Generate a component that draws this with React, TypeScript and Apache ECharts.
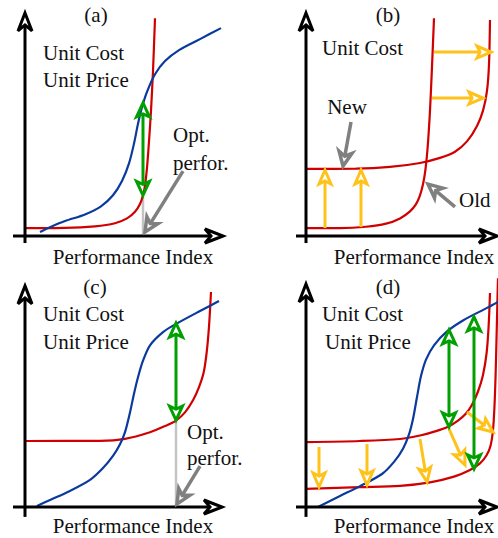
import React, { useEffect, useRef } from "react";
import * as echarts from "echarts";

// ---------- Panel (a) ----------
const costA = [[0, 3.6], [20, 3.7], [35, 4.4], [45, 5.8], [51, 8], [55, 11], [57.5, 14.5], [59, 18.5], [60, 23], [61, 31], [62, 43], [63, 57], [64, 75], [65, 99]];
const priceA = [[7.5, 1.8], [12.5, 4], [20, 6.8], [30, 9.8], [38, 13.5], [44, 18.5], [48.5, 25], [52, 33], [54.5, 42], [56.5, 51], [58.5, 58.5], [61, 65.5], [65, 73.5], [70, 79.5], [77, 84.5], [87.5, 89.5], [98, 94.5]];
const marginA = [[59, 60.5, 59, 18.5]];
const optLineA = [[59, 18.5], [59, 0]];
const pointerA = [[79, 29.5, 60, 1.8]];
const axesA = [[-6, 0, 99, 0], [0, -3.2, 0, 101.4]];

// ---------- Panel (b) ----------
const oldCostB = [[0, 3.6], [17, 3.6], [30, 4.2], [40, 5.6], [47, 8], [52, 11.2], [55, 14.5], [57, 18.5], [58.5, 23.5], [59.7, 30], [60.8, 40], [62, 57], [63, 77], [64, 99]];
const newCostB = [[0.5, 30.5], [25, 30.6], [42, 31.4], [57, 33.2], [67, 35.5], [74.5, 38.3], [80.5, 43], [85.5, 50], [88.5, 57], [90.5, 66], [91.5, 78], [92, 98.2]];
const shiftB = [[9.5, 3.6, 9.5, 30], [27.5, 4.1, 27.5, 30], [64, 83.6, 92.5, 83.6], [63, 62.7, 88.5, 62.7]];
const pointerB = [[22.5, 51.8, 18.5, 31.8], [74.5, 13.2, 61, 23.6]];
const axesB = [[-5, 0, 95.5, 0], [0, -3.2, 0, 101.4]];

// ---------- Panel (c) ----------
const costC = [[0.5, 30], [37.5, 30.1], [50, 31], [62.5, 34], [70, 36.8], [75.5, 39.3], [80, 43], [84, 48.5], [87, 54.5], [89.3, 61], [90.8, 70], [92, 82], [93, 97.7]];
const priceC = [[6, 0.5], [12.5, 3.2], [22.5, 7.3], [32.5, 12.3], [39, 17.7], [44, 23.2], [47.5, 28.5], [50, 34], [52.5, 43], [54.5, 51.5], [56.5, 59], [59, 66.5], [62.5, 73.5], [69, 79.5], [75.5, 83.2], [87.5, 89.1], [97, 93.6]];
const marginC = [[75.5, 83.6, 75.5, 39.5]];
const optLineC = [[75.5, 39.5], [75.5, 0]];
const pointerC = [[87.5, 18.6, 76, 1.4]];
const axesC = [[-6, 0, 98.5, 0], [0, -4.5, 0, 100.5]];

// ---------- Panel (d) ----------
const highCostD = [[0, 29.5], [27, 30], [47, 30.9], [57, 32.5], [65, 34.5], [71, 36.5], [76, 39.3], [80, 42.5], [83, 46.5], [86, 52.5], [88.5, 60], [90.3, 70], [91.3, 82], [92, 97.3]];
const lowCostD = [[0, 8.2], [27, 9], [47, 9.6], [62, 11.2], [74, 13.8], [82, 16.8], [87, 19.8], [90.3, 23.5], [92.3, 28], [93.5, 35], [94.2, 45], [94.8, 60], [95.3, 78], [95.8, 97], [96, 104]];
const priceD = [[6, 0], [17, 5], [27, 9.5], [38, 15], [44, 20.5], [48.5, 26.5], [51.5, 33], [53.5, 40], [55.5, 50], [57.5, 59.5], [60, 67], [64, 73.5], [70.5, 79.8], [78.5, 84.8], [90.5, 90.5], [96, 93.2]];
const marginD = [[71.5, 80.5, 71.5, 36.4], [84, 86.4, 84, 17.3]];
const shiftD = [[6.5, 27.3, 6.5, 9.1], [30.5, 28.6, 30.5, 10], [57, 30.9, 60.5, 11.4], [71.5, 35.5, 79.5, 19.1], [80.5, 43.2, 93.5, 34.1]];
const axesD = [[-5, 0, 95.5, 0], [0, -4.5, 0, 101.4]];

const RED = "#d00000";
const BLUE = "#0b3a9e";
const GREEN = "#00a000";
const YELLOW = "#ffc21a";
const GRAY = "#808080";
const LIGHT = "#c4c4c4";

type ArrowStyle = { color: string; lw: number; len: number; half: number; notch: number; double: boolean };
const AXIS_STYLE: ArrowStyle = { color: "#000", lw: 3, len: 18, half: 7, notch: 12, double: false };
const GREEN_STYLE: ArrowStyle = { color: GREEN, lw: 3, len: 14, half: 6.5, notch: 11, double: true };
const YELLOW_STYLE: ArrowStyle = { color: YELLOW, lw: 3, len: 14, half: 6, notch: 11, double: false };
const GRAY_STYLE: ArrowStyle = { color: GRAY, lw: 3.5, len: 14, half: 6.5, notch: 10, double: false };

function arrowRender(s: ArrowStyle) {
  return (params: any, api: any) => {
    const a = api.coord([api.value(0), api.value(1)]);
    const b = api.coord([api.value(2), api.value(3)]);
    const dx = b[0] - a[0];
    const dy = b[1] - a[1];
    const L = Math.hypot(dx, dy) || 1;
    const ux = dx / L;
    const uy = dy / L;
    const head = (tip: number[], dx1: number, dy1: number) => {
      const nx = -dy1;
      const ny = dx1;
      const bx = tip[0] - dx1 * s.len;
      const by = tip[1] - dy1 * s.len;
      const nb = [tip[0] - dx1 * s.notch, tip[1] - dy1 * s.notch];
      return {
        pts: [tip, [bx + nx * s.half, by + ny * s.half], nb, [bx - nx * s.half, by - ny * s.half]],
        nb,
      };
    };
    const h2 = head(b, ux, uy);
    let start = a;
    const children: any[] = [];
    let h1: any = null;
    if (s.double) {
      h1 = head(a, -ux, -uy);
      start = h1.nb;
    }
    children.push({
      type: "line",
      shape: { x1: start[0], y1: start[1], x2: h2.nb[0], y2: h2.nb[1] },
      style: { stroke: s.color, lineWidth: s.lw },
    });
    const heads = h1 ? [h2, h1] : [h2];
    heads.forEach((h) =>
      children.push({
        type: "polygon",
        shape: { points: h.pts },
        style: { stroke: s.color, fill: "none", lineWidth: s.lw, lineJoin: "miter" },
      })
    );
    return { type: "group", children };
  };
}

function arrows(idx: number, data: number[][], s: ArrowStyle) {
  return {
    type: "custom",
    coordinateSystem: "cartesian2d",
    xAxisIndex: idx,
    yAxisIndex: idx,
    data,
    renderItem: arrowRender(s),
    clip: false,
    silent: true,
    z: 5,
  };
}

function curve(idx: number, data: number[][], color: string, width = 2.2) {
  return {
    type: "line",
    xAxisIndex: idx,
    yAxisIndex: idx,
    data,
    smooth: 0.3,
    showSymbol: false,
    symbol: "none",
    clip: false,
    silent: true,
    lineStyle: { color, width },
    z: 3,
  };
}

function straight(idx: number, data: number[][], color: string, width: number) {
  return {
    type: "line",
    xAxisIndex: idx,
    yAxisIndex: idx,
    data,
    showSymbol: false,
    symbol: "none",
    clip: false,
    silent: true,
    lineStyle: { color, width },
    z: 2,
  };
}

function txt(text: string, x: number, y: number, align = "left") {
  return {
    type: "text",
    silent: true,
    style: {
      text,
      x,
      y,
      font: "21px \"Liberation Serif\", serif",
      fill: "#111",
      textAlign: align,
      textVerticalAlign: "middle",
    },
  };
}

export default function App() {
  const ref = useRef<HTMLDivElement>(null);
  useEffect(() => {
    if (!ref.current) return;
    const chart = echarts.init(ref.current, undefined, { renderer: "svg" });
    // pixel location of each panel's axes crossing
    const origins = [
      [25, 236],
      [306, 236],
      [25, 507],
      [306, 507],
    ];
    const XU = 2;
    const YU = 2.2;
    const grid = origins.map(([cx, cy]) => ({
      left: cx - 8 * XU,
      top: cy - 104 * YU,
      width: 108 * XU,
      height: 110 * YU,
      containLabel: false,
      outerBoundsMode: "none",
    }));
    const xAxis = origins.map((_, i) => ({ type: "value", gridIndex: i, min: -8, max: 100, show: false }));
    const yAxis = origins.map((_, i) => ({ type: "value", gridIndex: i, min: -6, max: 104, show: false }));

    const series: any[] = [
      // (a)
      straight(0, optLineA, LIGHT, 2.5),
      curve(0, costA, RED),
      curve(0, priceA, BLUE),
      arrows(0, axesA, AXIS_STYLE),
      arrows(0, marginA, GREEN_STYLE),
      arrows(0, pointerA, GRAY_STYLE),
      // (b)
      curve(1, oldCostB, RED),
      curve(1, newCostB, RED),
      arrows(1, axesB, AXIS_STYLE),
      arrows(1, shiftB, YELLOW_STYLE),
      arrows(1, pointerB, GRAY_STYLE),
      // (c)
      straight(2, optLineC, LIGHT, 2.5),
      curve(2, costC, RED),
      curve(2, priceC, BLUE),
      arrows(2, axesC, AXIS_STYLE),
      arrows(2, marginC, GREEN_STYLE),
      arrows(2, pointerC, GRAY_STYLE),
      // (d)
      curve(3, highCostD, RED),
      curve(3, lowCostD, RED),
      curve(3, priceD, BLUE),
      arrows(3, axesD, AXIS_STYLE),
      arrows(3, shiftD, YELLOW_STYLE),
      arrows(3, marginD, GREEN_STYLE),
    ];

    const graphic = [
      txt("(a)", 96, 15, "center"),
      txt("Unit Cost", 43, 53),
      txt("Unit Price", 43, 80),
      txt("Opt.", 173, 135),
      txt("perfor.", 173, 163),
      txt("Performance Index", 133, 257, "center"),

      txt("(b)", 388, 15, "center"),
      txt("Unit Cost", 322, 48),
      txt("New", 347, 107, "center"),
      txt("Old", 459, 200),
      txt("Performance Index", 414, 257, "center"),

      txt("(c)", 95, 287, "center"),
      txt("Unit Cost", 43, 314),
      txt("Unit Price", 43, 342),
      txt("Opt.", 187, 432),
      txt("perfor.", 187, 458),
      txt("Performance Index", 133, 526, "center"),

      txt("(d)", 388, 287, "center"),
      txt("Unit Cost", 322, 314),
      txt("Unit Price", 325, 342),
      txt("Performance Index", 414, 526, "center"),
    ];

    chart.setOption({
      animation: false,
      backgroundColor: "#fff",
      grid,
      xAxis,
      yAxis,
      series,
      graphic,
    } as any);
    return () => chart.dispose();
  }, []);
  return (
    <div
      ref={ref}
      style={{ position: "fixed", left: 0, top: 0, width: 498, height: 538, background: "#fff" }}
    />
  );
}
